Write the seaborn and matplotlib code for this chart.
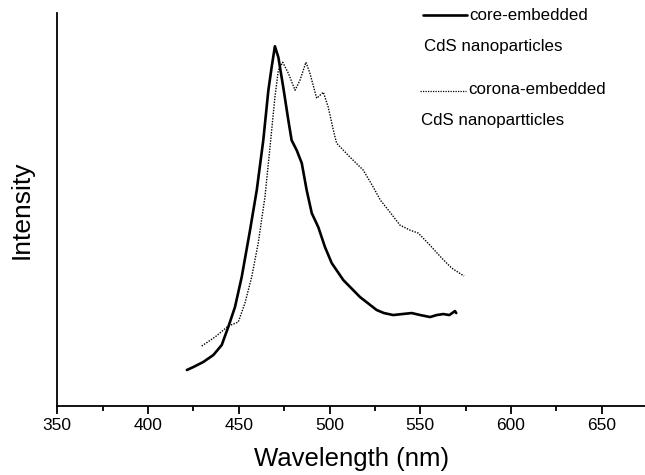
import numpy as np
import pandas as pd
import matplotlib
matplotlib.use('Agg')
import matplotlib.pyplot as plt
from matplotlib.lines import Line2D
from matplotlib.ticker import MultipleLocator
import seaborn as sns

# core-embedded CdS nanoparticles (solid)
core_nm = [421.4, 425.0, 430.4, 436.0, 440.6, 444.2, 447.9, 451.6, 456.2, 459.9, 463.5,
           466.3, 468.1, 469.9, 471.8, 474.5, 477.3, 479.1, 481.9, 484.7, 487.4,
           490.2, 493.8, 497.5, 501.2, 507.6, 516.8, 526.0, 530.0, 535.1, 540.0,
           545.3, 550.0, 555.4, 559.0, 562.7, 566.0, 569.1, 569.8]
core_int = [36, 39, 44, 51, 61, 79, 99, 129, 176, 216, 266,
            316, 339, 360, 349, 319, 286, 266, 256, 243, 216,
            193, 179, 159, 143, 126, 109, 96, 93, 91, 92,
            93, 91, 89, 91, 92, 91, 95, 93]

# corona-embedded CdS nanoparticles (dotted)
corona_nm = [429.6, 436.9, 444.2, 449.7, 453.4, 457.1, 460.7, 464.4, 467.2, 469.9,
             471.8, 474.2, 477.3, 481.0, 483.7, 487.0, 489.2, 492.9, 496.6, 499.3,
             502.1, 503.9, 511.3, 518.6, 524.1, 528.0, 533.3, 538.8, 544.3, 548.9,
             555.3, 561.8, 567.3, 574.1]
corona_int = [60, 69, 80, 84, 103, 129, 163, 209, 259, 309,
              336, 344, 333, 316, 326, 344, 333, 308, 314, 299,
              276, 263, 249, 236, 219, 206, 194, 181, 176, 173,
              161, 148, 138, 130]

xticks = [350, 400, 450, 500, 550, 600, 650]

sns.set_style("ticks")
plt.rcParams['font.family'] = ['Liberation Sans', 'DejaVu Sans']
plt.rcParams['text.color'] = 'black'
plt.rcParams['axes.labelcolor'] = 'black'

core = pd.DataFrame({"nm": core_nm, "intensity": core_int})
corona = pd.DataFrame({"nm": corona_nm, "intensity": corona_int})

fig = plt.figure(figsize=(6.45, 4.75), dpi=100)
ax = fig.add_axes([0.0888, 0.1453, 0.9112, 0.8267])

sns.lineplot(data=core, x="nm", y="intensity", ax=ax, color="black",
             linewidth=1.9, sort=False)
sns.lineplot(data=corona, x="nm", y="intensity", ax=ax, color="black",
             linewidth=1.0, linestyle=(0, (1, 1)), sort=False)

ax.set_xlim(350, 673.8)
ax.set_ylim(0, 393)
ax.set_xticks(xticks)
ax.xaxis.set_minor_locator(MultipleLocator(25))
ax.set_yticks([])
ax.tick_params(axis="x", which="major", direction="out", length=6, width=1.3,
               labelsize=12.5, pad=3, color="black", labelcolor="black")
ax.tick_params(axis="x", which="minor", direction="out", length=3.5, width=1.3,
               color="black")
for s in ["top", "right"]:
    ax.spines[s].set_visible(False)
for s in ["left", "bottom"]:
    ax.spines[s].set_linewidth(1.3)
    ax.spines[s].set_color("black")

ax.set_xlabel("Wavelength (nm)", fontsize=18.5, labelpad=10, color="black")
ax.set_ylabel("Intensity", fontsize=19, labelpad=17, color="black")

# legend drawn by hand to mimic the original layout
fs = 12.2
fig.add_artist(Line2D([423 / 645, 467 / 645], [1 - 15 / 475, 1 - 15 / 475],
                      color="black", linewidth=1.9, transform=fig.transFigure))
fig.text(469 / 645, 1 - 15 / 475, "core-embedded", fontsize=fs, va="center")
fig.text(424 / 645, 1 - 47 / 475, "CdS nanoparticles", fontsize=fs, va="center")
fig.add_artist(Line2D([420 / 645, 466 / 645], [1 - 91 / 475, 1 - 91 / 475],
                      color="black", linewidth=0.9, linestyle=(0, (1, 1)),
                      transform=fig.transFigure))
fig.text(468 / 645, 1 - 90 / 475, "corona-embedded", fontsize=fs, va="center")
fig.text(421 / 645, 1 - 121 / 475, "CdS nanopartticles", fontsize=fs, va="center")

fig.savefig("out.png", dpi=100)
